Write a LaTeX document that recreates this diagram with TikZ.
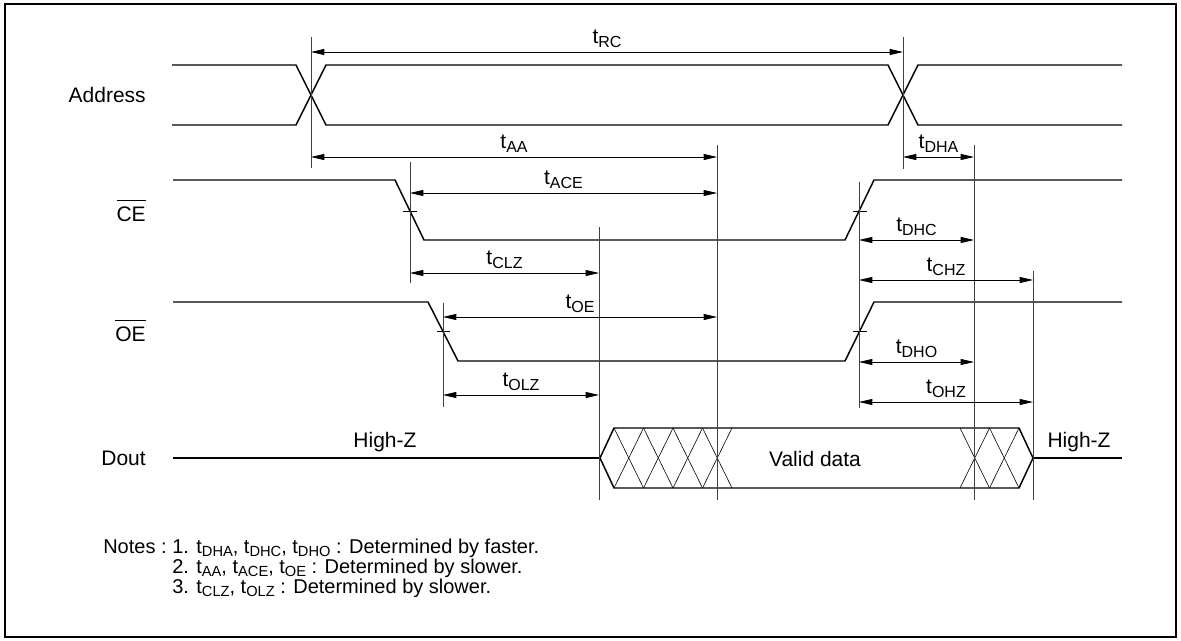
\documentclass[tikz,border=0pt]{standalone}
\usepackage{fontspec}
\setmainfont{Liberation Sans}
\usetikzlibrary{arrows.meta}
\newcommand\tlbl[1]{t\raisebox{-3pt}{\fontsize{12}{13}\selectfont #1}}
\newcommand\tlbs[1]{t\raisebox{-2.5pt}{\fontsize{11}{12}\selectfont #1}}
\newcommand\ovbar[1]{\vbox{\hrule height 0.8pt\kern 4.5pt\hbox{#1}}}
\begin{document}
\begin{tikzpicture}[x=0.75pt,y=-0.75pt, font=\fontsize{15.75}{18}\selectfont,
  wave/.style={line width=1.1pt, line join=miter},
  hatch/.style={line width=0.45pt},
  guide/.style={line width=0.7pt, black!75},
  dim/.style={line width=0.6pt, {Triangle[length=10pt,width=4.5pt]}-{Triangle[length=10pt,width=4.5pt]}},
  tick/.style={line width=0.6pt},
  lbl/.style={anchor=south, inner sep=0pt},
  sig/.style={anchor=east, inner sep=0pt},
  txt/.style={anchor=base west, inner sep=0pt, font=\fontsize{15}{17}\selectfont}]
\useasboundingbox (0,0) rectangle (1181,641);
\draw[line width=0.9pt] (5,4) rectangle (1176,637);

% signal names
\node[sig] (nAddr) at (146,95) {Address};
\node[sig] (nCE) at (146,211) {\ovbar{CE}};
\node[sig] (nOE) at (146,331) {\ovbar{OE}};
\node[sig] (nDout) at (146,458) {Dout};

% Address
\draw[wave] (172,65) -- (296,65) -- (326,125) -- (888,125) -- (918,65) -- (1122,65);
\draw[wave] (172,125) -- (296,125) -- (326,65) -- (888,65) -- (918,125) -- (1122,125);
% CE
\draw[wave] (173,180) -- (395,180) -- (424,240) -- (845,240) -- (874,180) -- (1122,180);
% OE
\draw[wave] (173,302) -- (428,302) -- (458,361) -- (845,361) -- (874,302) -- (1122,302);
% Dout
\draw[wave] (173,458) -- (600,458);
\draw[wave] (600,458) -- (614,428) -- (1019,428) -- (1033,458) -- (1019,488) -- (614,488) -- cycle;
\draw[wave] (1033,458) -- (1122,458);
\foreach \i in {0,...,3}{
  \draw[hatch] ({614+29.5*\i},428) -- ({643.5+29.5*\i},488);
  \draw[hatch] ({614+29.5*\i},488) -- ({643.5+29.5*\i},428);
}
\foreach \i in {0,1}{
  \draw[hatch] ({960+29.5*\i},428) -- ({989.5+29.5*\i},488);
  \draw[hatch] ({960+29.5*\i},488) -- ({989.5+29.5*\i},428);
}
\node (nValid) at (815,459) {Valid data};
\node (nHZ1) at (385,442) {High-Z};
\node (nHZ2) at (1079,442) {High-Z};

% crossing ticks
\draw[tick] (403,211) -- (417,211);
\draw[tick] (853,211) -- (867,211);
\draw[tick] (437,331) -- (450,331);
\draw[tick] (853,331) -- (867,331);

% guide lines
\draw[guide] (311,37) -- (311,168);
\draw[guide] (903,37) -- (903,169);
\draw[guide] (410,162) -- (410,283);
\draw[guide] (443,303) -- (443,407);
\draw[guide] (599,227) -- (599,500);
\draw[guide] (717,145) -- (717,500);
\draw[guide] (974,145) -- (974,500);
\draw[guide] (1033,271) -- (1033,500);
\draw[guide] (859,182) -- (859,408);

% dimension arrows
\draw[dim] (311,52) -- (903,52);
\node[lbl] (lRC) at (607,48) {\tlbl{RC}};
\draw[dim] (311,157) -- (717,157);
\node[lbl] (lAA) at (514,153) {\tlbl{AA}};
\draw[dim] (903,157) -- (974,157);
\node[lbl] (lDHA) at (938.5,153) {\tlbl{DHA}};
\draw[dim] (410,193) -- (717,193);
\node[lbl] (lACE) at (563.5,189) {\tlbl{ACE}};
\draw[dim] (410,273) -- (599,273);
\node[lbl] (lCLZ) at (504.5,269) {\tlbl{CLZ}};
\draw[dim] (859,240) -- (974,240);
\node[lbl] (lDHC) at (916.5,236) {\tlbl{DHC}};
\draw[dim] (859,280) -- (1033,280);
\node[lbl] (lCHZ) at (946,276) {\tlbl{CHZ}};
\draw[dim] (443,317) -- (717,317);
\node[lbl] (lOE) at (580,313) {\tlbl{OE}};
\draw[dim] (443,395) -- (599,395);
\node[lbl] (lOLZ) at (521,391) {\tlbl{OLZ}};
\draw[dim] (859,362) -- (974,362);
\node[lbl] (lDHO) at (916.5,358) {\tlbl{DHO}};
\draw[dim] (859,402) -- (1033,402);
\node[lbl] (lOHZ) at (946,398) {\tlbl{OHZ}};

% notes
\node[txt] (nNotes) at (103,553) {Notes :};
\node[txt] (n1) at (172,553) {1. \tlbs{DHA}, \tlbs{DHC}, \tlbs{DHO} : Determined by faster.};
\node[txt] (n2) at (172,573) {2. \tlbs{AA}, \tlbs{ACE}, \tlbs{OE} : Determined by slower.};
\node[txt] (n3) at (172,593) {3. \tlbs{CLZ}, \tlbs{OLZ} : Determined by slower.};
\end{tikzpicture}
\end{document}
